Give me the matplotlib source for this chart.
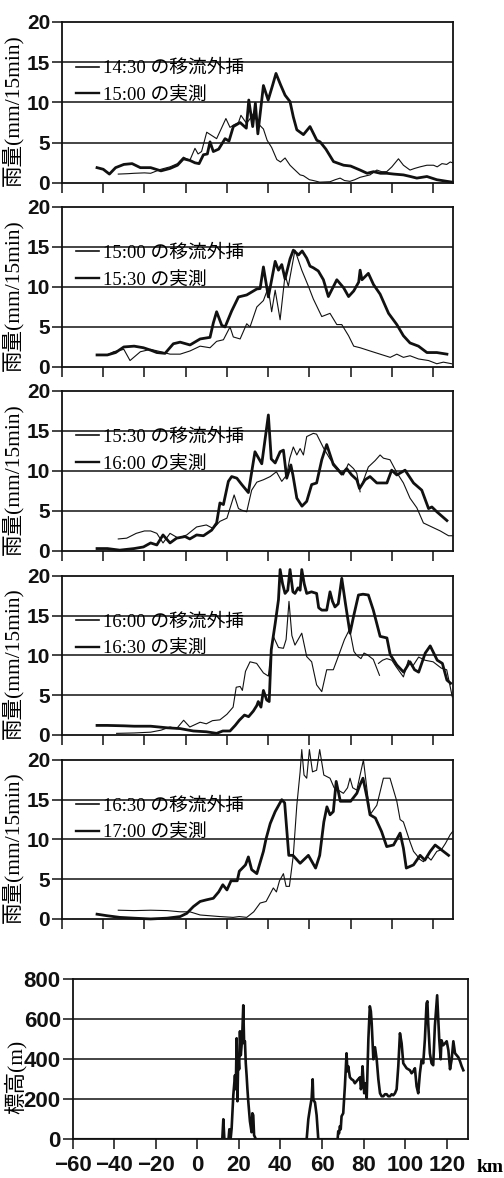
"""Rainfall cross-sections: advection nowcast vs. observed, with the terrain profile."""
import matplotlib

matplotlib.use("Agg")
import matplotlib.pyplot as plt  # noqa: E402
import numpy as np  # noqa: E402
from matplotlib import font_manager  # noqa: E402
from matplotlib.lines import Line2D  # noqa: E402

nan = np.nan

# --------------------------------------------------------------------------
# data: distance along the section (km) and 15-min rainfall (mm)
# --------------------------------------------------------------------------
P1_FCST_KM = [-32.7, -28, -25, -20, -17, -12, -7.6, -4, -1.1, 2, 4.5, 6, 7.7, 10.2, 12.6, 15, 17,
              19.5, 21.5, 23.2, 25.6, 26.8, 29.5, 31, 32.8, 35, 37.7, 39.5, 41.7, 44.2, 46, 48.2,
              50.6, 52.2, 55.5, 57.1, 60, 61.9, 65, 70, 72.5, 74.9, 77, 79.7, 82, 84.6, 86.2,
              89.4, 92.7, 95, 97.5, 100, 103.2, 105.6, 108.8, 111, 113.7, 117, 120.2, 122, 124.3,
              126.6, 128.3, 129.5]
P1_FCST = [1.1, 1.15, 1.2, 1.25, 1.2, 1.7, 2.0, 2.4, 3.2, 2.8, 4.3, 3.6, 3.9, 6.3, 5.9, 5.5, 6.6,
           8.0, 6.9, 7.2, 7.5, 8.4, 7.4, 7.9, 8.6, 7.4, 6.7, 5.3, 4.4, 2.9, 2.6, 3.1,
           2.2, 1.8, 1.0, 0.9, 0.4, 0.3, 0.1, 0.15, 0.4, 0.6, 0.3, 0.2, 0.4, 0.7, 0.8,
           1.0, 1.6, 1.4, 1.4, 2.0, 3.0, 2.2, 1.6, 1.8, 2.0, 2.2, 2.2, 2.0, 2.4,
           2.3, 2.6, 2.5]
P1_OBS_KM = [-43, -40, -37, -34, -30, -26, -22, -17, -12, -7.6, -4, -1.1, 2, 4.5, 6.5, 8.6, 10.5,
             11.8, 13.4, 16, 19.1, 21, 23.1, 26.4, 29.4, 30.6, 32.5, 33.8, 35.0, 37.7, 40, 42,
             43.8, 46, 48.2, 50.6, 52.2, 53.9, 57.1, 60.3, 63.6, 65.2, 68, 71.7, 76.6, 80, 84.6,
             88, 91.1, 94.5, 97.5, 101, 105.6, 109, 112.1, 117, 121.8, 126.7, 129.3]
P1_OBS = [1.9, 1.7, 1.1, 1.9, 2.3, 2.4, 1.9, 1.9, 1.5, 1.8, 2.2, 3.0, 2.8, 2.5, 2.4, 3.5, 3.6,
          5.1, 3.9, 4.2, 5.5, 5.2, 7.0, 7.5, 6.8, 10.3, 7.0, 9.9, 6.1, 12.1, 10.3, 12.0,
          13.6, 12.2, 10.9, 10.1, 8.2, 6.6, 6.0, 7.0, 5.3, 5.1, 4.2, 2.65, 2.2, 2.1, 1.6,
          1.2, 1.4, 1.2, 1.2, 1.1, 1.0, 0.8, 0.6, 0.8, 0.4, 0.2, 0.1]

P2_FCST_KM = [-43, -38, -35, -30, -27, -22, -17, -12, -7.6, -2.7, 2.1, 7, 11.8, 15, 18.3, 21.5,
              23.1, 26.4, 29.6, 31.2, 34.5, 37.7, 40, 41.7, 43.4, 45.8, 48.2, 49.8, 53, 56.3,
              59.5, 61.9, 66, 70, 73.3, 75.7, 79, 81.5, 84.6, 89.4, 94.3, 99.2, 102.4, 105.6,
              108.8, 112.9, 117.8, 121.8, 125, 129]
P2_FCST = [1.5, 1.5, 1.9, 2.2, 0.8, 1.9, 2.2, 1.9, 1.6, 1.6, 2.0, 2.6, 2.4, 3.2, 3.4, 5.0,
           3.75, 3.5, 5.4, 5.0, 7.5, 8.3, 9.9, 6.9, 9.6, 5.9, 11.5, 10.1, 14.6, 12.1,
           10.1, 8.5, 6.3, 6.7, 5.3, 5.3, 3.9, 2.6, 2.4, 2.0, 1.6, 1.2, 1.6, 1.2,
           1.4, 1.0, 0.8, 0.4, 0.6, 0.4]
P2_OBS_KM = [-43, -38, -34, -30, -25, -20.5, -17, -14, -10, -6, -2.7, 2.1, 7, 11.8, 13.4, 15,
             17.5, 19.1, 22.3, 25.6, 29.6, 34.5, 36.1, 37.7, 40.1, 43.4, 45, 46.6, 48.2, 50.6,
             52.2, 54.7, 56.5, 58.7, 60.3, 61.9, 64.3, 66.8, 69.2, 73.3, 76.6, 79, 81.5, 83.9,
             84.6, 85.5, 88.6, 91.1, 94.3, 98.4, 102.4, 105.6, 108.8, 112.9, 117, 121.8, 126.7]
P2_OBS = [1.5, 1.5, 1.8, 2.5, 2.6, 2.4, 2.1, 1.8, 1.7, 2.9, 3.1, 2.75, 3.5, 3.7, 5.5, 6.9,
          5.2, 5.0, 7.0, 8.75, 9.0, 9.75, 9.8, 12.5, 8.75, 13.2, 12.1, 12.8, 11.0, 13.5,
          14.6, 14.0, 14.5, 13.6, 12.6, 12.4, 12.0, 10.9, 8.8, 10.9, 9.9, 8.8, 9.5, 10.6,
          12.1, 10.9, 11.7, 10.3, 9.1, 6.7, 5.3, 3.9, 3.0, 2.6, 1.8, 1.8, 1.6]

P3_FCST_KM = [-32.7, -28.6, -24, -20, -17, -14, -11, -7.6, -3.6, 0.5, 5.3, 10, 13.4, 16.6, 20,
              22, 23.5, 25.6, 27.2, 29.6, 32, 34.5, 37.7, 41, 44, 46.6, 49, 50.5, 52.2, 53.9,
              55.5, 57.1, 58.7, 61.9, 63.5, 66.8, 70, 73.3, 76.5, 78.9, 81.4, 83, 84.6, nan,
              85.4, 88.6, 91.9, 94.3, 95.9, 99.1, 102.4, 105.6, 108.8, 112.1, 115.3, 120.2,
              123.5, 127.5, 129.5]
P3_FCST = [1.5, 1.6, 2.2, 2.5, 2.5, 2.2, 1.0, 2.2, 1.6, 2.0, 3.0, 3.25, 2.8, 3.7, 4.1,
           5.75, 7.0, 5.3, 5.1, 4.9, 7.6, 8.6, 8.9, 9.3, 9.9, 8.7, 9.5, 11.6, 13.0, 12.0,
           12.8, 12.0, 14.3, 14.7, 14.6, 12.9, 11.5, 10.5, 9.5, 10.9, 10.3, 9.7, 7.4, nan,
           8.25, 10.5, 11.3, 12.0, 11.6, 11.4, 9.8, 8.5, 6.6, 5.4, 3.5, 2.9,
           2.5, 1.9, 1.9]
P3_OBS_KM = [-43, -38, -32, -25, -20.5, -17, -14, -11, -7.6, -4.4, -0.3, 2, 5.3, 8.6, 12.6, 15,
             16.6, 18.3, 20.7, 22.3, 24.8, 27.2, 30.4, 33.6, 36.9, 40.1, 41.5, 43.4, 45.8, 47.4,
             49, 51, 52, 53.9, 56.4, 58.7, 61.1, 63.5, 66, 68.4, 71.6, 75.7, 78.1, 80.5, 83,
             84.3, 87, 89.4, 92.7, 97.6, 99.9, 102.4, 106.4, 110.5, 114.5, 117.8, 119.4, 121.8,
             126.7]
P3_OBS = [0.3, 0.3, 0.1, 0.3, 0.5, 1.0, 0.75, 2.0, 1.0, 1.6, 1.8, 1.5, 2.0, 1.9, 2.6, 3.5,
          6.0, 5.8, 8.7, 9.3, 9.1, 8.3, 7.3, 12.4, 10.9, 17.0, 11.5, 11.0, 12.4, 12.6,
          9.1, 10.75, 9.5, 6.6, 5.6, 6.2, 8.3, 8.5, 11.4, 13.3, 10.8, 9.6, 10.3, 9.5, 8.9,
          7.8, 8.9, 9.3, 8.5, 8.5, 10.1, 9.5, 10.1, 8.5, 7.6, 5.3, 5.5, 4.9,
          3.8]

P4_FCST_KM = [-33.5, -25, -17, -12, -7.6, -4.4, -1, 2, 7, 10, 13, 16.6, 20, 23, 24.5, 26.4,
              27.5, 29, 31.2, 34.4, 37.7, 40.1, 41.2, 42.5, 45, 47.4, 48.7, 50.1, 51.5, 53,
              56.3, 58.7, 61.1, 63.5, 66, 68.4, 71.6, 74.9, 77, 79.5, 81.6, 83, 85, 86.5, 88,
              91, 94, nan, 93.5, 95.5, 97.5, 100, 102, 105.6, 108, 110, 113, 116, 120, 124,
              126.6, 129.3]
P4_FCST = [0.2, 0.25, 0.35, 0.6, 1.0, 0.8, 1.85, 1.0, 1.6, 1.4, 1.8, 1.9, 2.6, 3.5, 6.0, 6.1,
           5.6, 8.0, 9.2, 9.0, 7.8, 7.4, 10.0, 12.4, 11.0, 10.9, 12.0, 16.8, 12.5, 11.3,
           12.8, 9.85, 9.2, 6.3, 5.45, 8.2, 8.2, 10.5, 12.0, 13.3, 10.5, 10.0, 9.6, 10.3, 10.1,
           9.5, 7.5, nan, 9.0, 9.4, 9.6, 9.4, 8.6, 7.3, 9.4, 8.6, 9.8, 9.4, 9.2, 8.4,
           8.2, 4.8]
P4_OBS_KM = [-43, -38, -30, -25, -17, -9, -2.7, 3.7, 10, 15, 18, 21.5, 24, 26, 28.5, 30.5,
             32.8, 34.5, 35.2, 36.5, 37.7, 39.3, 40.5, 41.5, 43.4, 45, 45.8, 47, 48.2, 49.5,
             50.6, 52, 53, 54.5, 55.5, 56.3, 57.5, 58.7, 61, 63.5, 64.5, 66, 68.4, 70, 71.2,
             72.4, 74, 75.7, 77.5, 79.7, 81.5, 83.8, 86, 88.6, 91, 94.3, 97.6, 99.2, 102.4,
             105.7, 108.8, 111, 113, 116.2, 118.6, 122, 124.5, 126.7, 128.5]
P4_OBS = [1.2, 1.2, 1.15, 1.1, 1.1, 0.9, 0.8, 0.5, 0.4, 0.2, 0.5, 0.5, 1.2, 1.85, 2.5, 2.3,
          3.0, 3.7, 4.2, 3.5, 5.6, 4.4, 4.2, 10.7, 14.0, 17.0, 20.8, 19.0, 17.8, 18.2,
          20.8, 18.0, 17.8, 18.5, 18.2, 20.8, 19.0, 17.8, 18.0, 17.8, 16.0, 15.7, 15.7, 18.0,
          16.8, 16.1, 16.5, 19.7, 16.5, 12.8, 15.0, 17.6, 17.7, 17.6, 15.7, 12.4, 12.2, 10.1,
          8.8, 7.9, 9.2, 8.2, 7.9, 10.3, 11.2, 9.4, 9.0, 6.9, 6.5]

P5_FCST_KM = [-32.7, -25, -17, -9, -2.7, 2, 7, 11.8, 16.6, 23, 26, 29.6, 33, 36.1, 39, 42.5,
              44, 45.5, 47.4, 48.7, 50.3, 52.2, 53.9, 55.5, 56.3, 57.4, 58.7, 60, 61.5, 63.5,
              65, 67, 70, 72, 74, 76.5, 78.5, 79.7, 81, 83, 86.2, 89.4, 92.7, 95.9, 99.1,
              102.4, 104, 105.6, 108.8, 110.5, 112.1, 113.5, 115.3, 117, 119, 121.8, 124, 126,
              128.3, 129.5]
P5_FCST = [1.1, 1.05, 1.1, 1.05, 0.9, 0.9, 0.5, 0.4, 0.3, 0.2, 0.3, 0.2, 0.9, 2.0, 2.2, 3.9,
           3.4, 4.8, 5.7, 4.1, 4.1, 8.0, 14.3, 18.5, 21.3, 18.1, 17.7, 21.3, 18.5, 18.7,
           21.3, 18.1, 17.7, 16.5, 16.2, 15.8, 16.5, 17.7, 16.5, 16.2, 20.0, 13.1, 14.3, 17.7,
           17.7, 14.8, 12.5, 12.2, 9.7, 8.5, 8.0, 7.5, 7.2, 7.9, 7.4, 8.5, 8.7, 9.5,
           10.6, 11.0]
P5_OBS_KM = [-43, -38, -32, -25, -17, -9, -2.7, 0.5, 3.7, 7, 10, 13.4, 16, 18, 20, 22, 25,
             26, 29, 30.4, 32, 34.5, 37.7, 39, 41, 43.4, 46.6, 48, 50, 52, 55.5, 59.5, 63,
             65, 67, 68.5, 70, 71.6, 73, 75, 80, 83, 84.6, 86, 88, 89.4, 92, 95, 97.5, 100.8,
             104, 105.6, 107, 110.5, 113.7, 116, 118.6, 121, 123, 127.5]
P5_OBS = [0.6, 0.4, 0.2, 0.1, 0.0, 0.1, 0.3, 0.7, 1.55, 2.2, 2.4, 2.6, 3.4, 4.3, 3.65, 4.8, 4.8,
          6.0, 6.8, 7.8, 6.2, 5.7, 8.5, 10.1, 12.0, 13.5, 15.0, 14.6, 8.0, 8.0, 7.0, 8.0, 6.4,
          8.0, 12.2, 14.1, 13.1, 13.5, 17.3, 14.8, 14.8, 15.8, 16.9, 17.7, 15.2, 13.1, 12.7,
          11.0, 9.1, 9.3, 10.8, 8.9, 6.4, 6.8, 8.0, 7.4, 8.5, 9.3, 8.9, 8.0]

FCST_TIMES = ["14:30", "15:00", "15:30", "16:00", "16:30"]
OBS_TIMES = ["15:00", "15:30", "16:00", "16:30", "17:00"]

# terrain height along the same section (m)
ELEV_KM = [-60, 12, 12.5, 13, 15, 15.4, 16, 16.5, 17.3, 18.1,
           18.5, 18.9, 19.3, 19.7, 20.1, 20.5, 20.9, 21.3, 21.7, 22.1,
           22.5, 22.9, 23.3, 23.7, 24.1, 24.5, 25.3, 26.1, 26.5, 26.9,
           27.3, 28.2, 52.6, 53.4, 54.2, 55.0, 55.5, 55.8, 56.2, 56.6,
           57.4, 58.2, 67.5, 67.8, 68.2, 68.6, 69.0, 69.4, 70.2, 71.0,
           71.8, 72.2, 72.6, 73.4, 74.2, 75.0, 75.8, 76.6, 77.4, 78.3,
           78.7, 79.0, 79.5, 80.3, 80.9, 81.5, 82.3, 83.0, 83.5, 83.9,
           84.7, 85.5, 86.3, 87.1, 87.9, 88.7, 89.5, 90.3, 91.1, 91.9,
           92.7, 93.5, 94.3, 95.1, 95.9, 96.7, 97.5, 98.3, 99.1, 100.7,
           101.5, 102.3, 103.1, 103.9, 104.7, 105.5, 106.3, 107.1, 107.9, 108.7,
           109.5, 110.3, 110.7, 111.1, 111.9, 112.7, 113.5, 114.3, 115.4, 116.4,
           117.1, 117.5, 118.3, 119.2, 120.0, 120.8, 121.6, 122.4, 123.2, 124.0,
           124.8, 125.6, 126.4, 127.2, 128.0]
ELEV_M = [0, 0, 100, 0, 0, 50, 0, 55, 220, 320,
          250, 505, 190, 420, 350, 540, 420, 470, 550, 670,
          480, 490, 380, 320, 250, 190, 90, 35, 130, 120,
          20, 0, 0, 100, 155, 205, 300, 200, 190, 185,
          120, 0, 0, 40, 30, 65, 50, 115, 130, 265,
          430, 340, 365, 310, 300, 295, 280, 290, 300, 310,
          250, 265, 365, 230, 280, 205, 500, 665, 640, 580,
          400, 460, 400, 300, 230, 215, 215, 225, 225, 215,
          215, 225, 220, 230, 250, 365, 530, 480, 380, 355,
          350, 345, 330, 340, 355, 265, 230, 330, 395, 380,
          500, 680, 690, 580, 430, 380, 370, 565, 720, 500,
          400, 495, 470, 480, 490, 445, 350, 400, 490, 430,
          420, 410, 390, 365, 345]

RAIN_TICKS = [0, 5, 10, 15, 20]
ELEV_TICKS = [0, 200, 400, 600, 800]
KM_TICKS = list(range(-60, 121, 20))

# --------------------------------------------------------------------------
# styling
# --------------------------------------------------------------------------
INK = "#111111"
_installed = {f.name for f in font_manager.fontManager.ttflist}
TICK_FONT = "Liberation Sans Narrow" if "Liberation Sans Narrow" in _installed else "Liberation Sans"
LABEL_FONT = ["Liberation Serif", "Noto Sans CJK JP"]

plt.rcParams["font.family"] = [TICK_FONT, "DejaVu Sans"]
plt.rcParams["font.weight"] = "bold"

# axes rectangles in figure fractions
RAIN_POS = [
    [0.123, 0.8447, 0.776, 0.1367],
    [0.123, 0.6885, 0.776, 0.1358],
    [0.123, 0.5323, 0.776, 0.1358],
    [0.123, 0.3761, 0.776, 0.1350],
    [0.123, 0.2199, 0.776, 0.1350],
]
ELEV_POS = [0.1442, 0.0329, 0.785, 0.1358]


def _frame(ax):
    for sp in ax.spines.values():
        sp.set_linewidth(1.3)
        sp.set_color(INK)
    ax.tick_params(axis="both", direction="out", length=7, width=1.1, color=INK,
                   labelsize=15, pad=1.5, labelcolor=INK)
    ax.set_xlim(-60, 129.7)
    ax.set_xticks(KM_TICKS)


fig = plt.figure(figsize=(5.04, 11.78), dpi=100)

series = [
    (P1_FCST_KM, P1_FCST, P1_OBS_KM, P1_OBS),
    (P2_FCST_KM, P2_FCST, P2_OBS_KM, P2_OBS),
    (P3_FCST_KM, P3_FCST, P3_OBS_KM, P3_OBS),
    (P4_FCST_KM, P4_FCST, P4_OBS_KM, P4_OBS),
    (P5_FCST_KM, P5_FCST, P5_OBS_KM, P5_OBS),
]

# legend keys are drawn a little heavier than the thin data line
key_thin = Line2D([], [], color=INK, linewidth=1.2)
key_thick = Line2D([], [], color=INK, linewidth=1.7)

for pos, (fk, fv, ok, ov), ft, ot in zip(RAIN_POS, series, FCST_TIMES, OBS_TIMES):
    ax = fig.add_axes(pos)
    _frame(ax)
    ax.set_ylim(0, 20)
    ax.set_yticks(RAIN_TICKS)
    ax.tick_params(axis="x", labelbottom=False)
    for g in RAIN_TICKS[1:-1]:
        ax.axhline(g, color=INK, linewidth=1.1, zorder=1)

    ax.plot(fk, fv, color=INK, linewidth=0.8, clip_on=False, zorder=3)
    ax.plot(ok, ov, color=INK, linewidth=2.0, clip_on=False, zorder=3)

    ax.legend(handles=[key_thin, key_thick],
              labels=[f"{ft} の移流外挿", f"{ot} の実測"],
              loc="upper left", bbox_to_anchor=(0.035, 0.765),
              frameon=False, borderpad=0, borderaxespad=0, handlelength=1.25,
              handletextpad=0.2, labelspacing=0.5,
              prop={"family": LABEL_FONT, "size": 13.5, "weight": "normal"})

    ax.set_ylabel("雨量(mm/15min)", fontfamily=LABEL_FONT, fontsize=15.5,
                  fontweight="normal")
    ax.yaxis.set_label_coords(-0.10, 0.45)

# terrain profile
ax = fig.add_axes(ELEV_POS)
_frame(ax)
ax.set_xlim(-60, 130.4)
ax.set_ylim(0, 800)
ax.set_yticks(ELEV_TICKS)
for g in ELEV_TICKS[1:-1]:
    ax.axhline(g, color=INK, linewidth=1.1, zorder=1)
ax.plot(ELEV_KM, ELEV_M, color=INK, linewidth=1.9, zorder=3)
ax.tick_params(axis="x", pad=4, labelsize=16)
ax.tick_params(axis="y", labelsize=16)
ax.set_ylabel("標高(m)", fontfamily=LABEL_FONT, fontsize=15.5, fontweight="normal")
ax.yaxis.set_label_coords(-0.115, 0.39)
ax.text(1.055, -0.175, "km", transform=ax.transAxes, ha="center", va="center",
        fontfamily="Liberation Serif", fontsize=14, fontweight="bold")

fig.savefig("out.png", dpi=100, facecolor="white")
